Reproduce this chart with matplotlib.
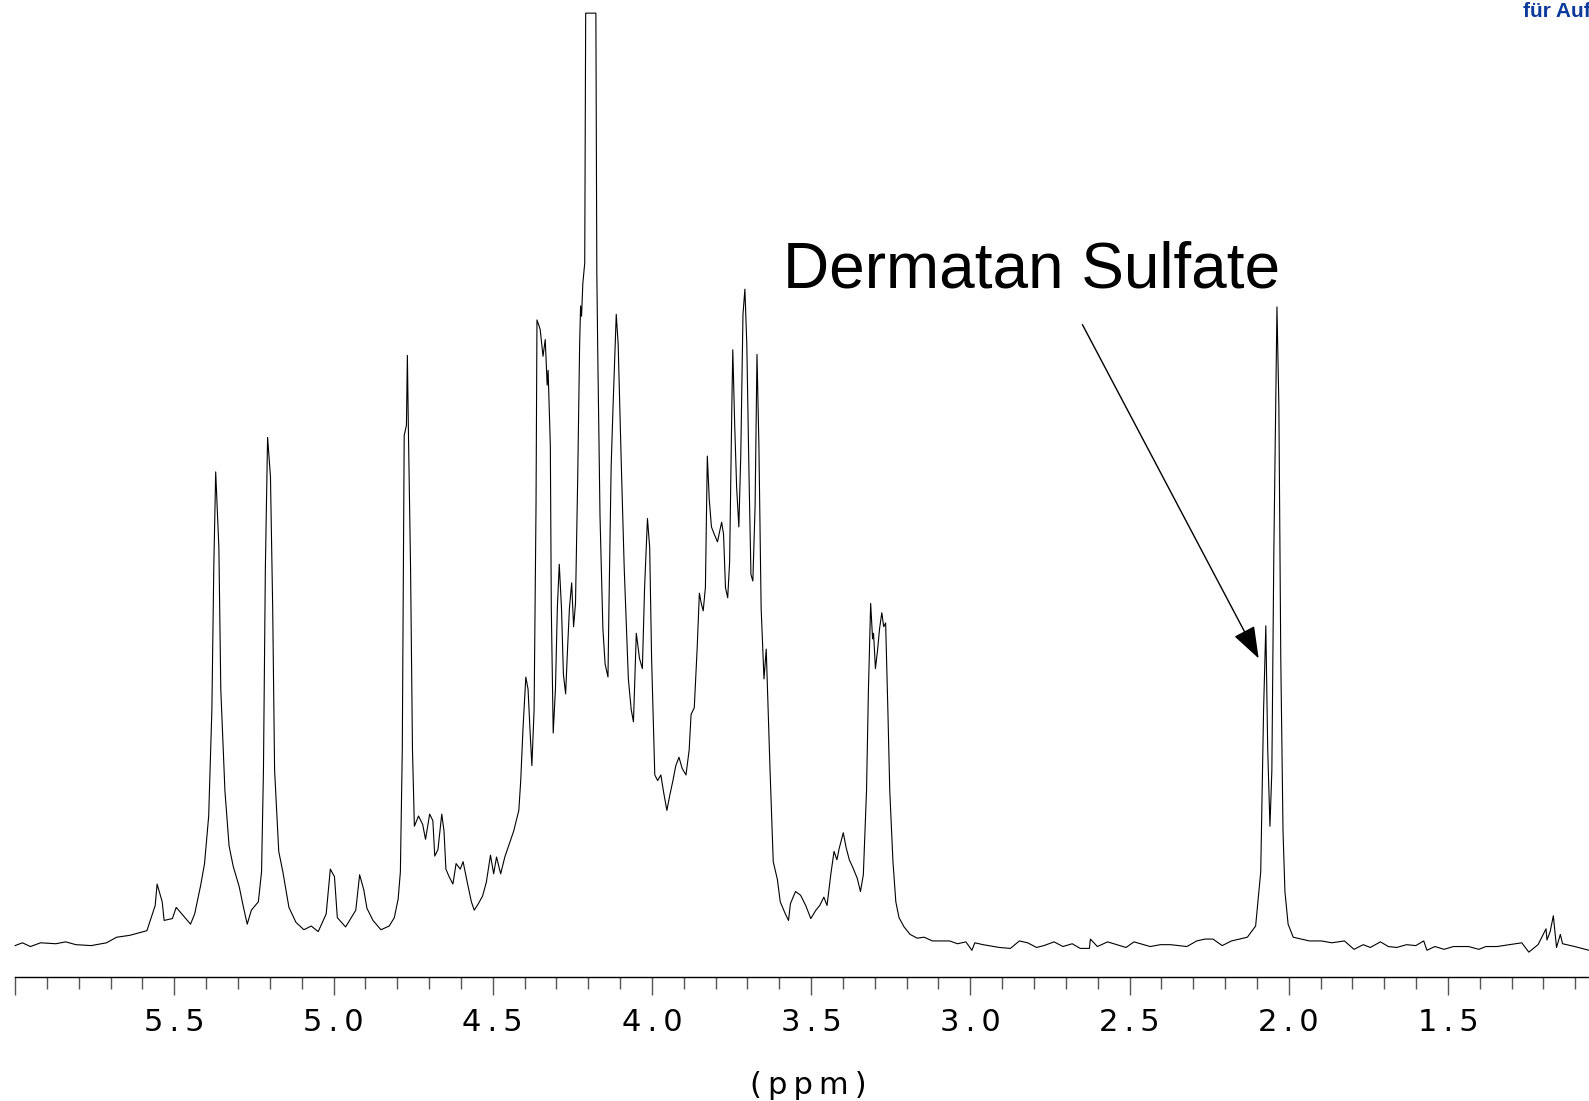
import matplotlib
matplotlib.use("Agg")
import matplotlib.pyplot as plt
import numpy as np

# chemical shift (ppm) and relative intensity
ppm = [6.000, 5.977, 5.952, 5.920, 5.872, 5.841, 5.809, 5.761, 5.713, 5.681,
       5.640, 5.586, 5.560, 5.554, 5.538, 5.532, 5.506, 5.494, 5.449, 5.436,
       5.417, 5.405, 5.392, 5.382, 5.376, 5.370, 5.360, 5.354, 5.341, 5.328,
       5.315, 5.296, 5.284, 5.271, 5.258, 5.236, 5.226, 5.220, 5.214, 5.207,
       5.198, 5.191, 5.185, 5.172, 5.159, 5.140, 5.118, 5.093, 5.070, 5.048,
       5.023, 5.010, 4.997, 4.988, 4.962, 4.946, 4.930, 4.918, 4.905, 4.895,
       4.876, 4.851, 4.825, 4.809, 4.797, 4.790, 4.784, 4.781, 4.778, 4.771,
       4.768, 4.765, 4.758, 4.752, 4.746, 4.733, 4.720, 4.711, 4.698, 4.688,
       4.682, 4.672, 4.660, 4.653, 4.647, 4.637, 4.625, 4.615, 4.602, 4.593,
       4.580, 4.567, 4.558, 4.545, 4.532, 4.520, 4.507, 4.497, 4.488, 4.475,
       4.462, 4.450, 4.434, 4.418, 4.412, 4.405, 4.396, 4.389, 4.383, 4.377,
       4.370, 4.364, 4.361, 4.351, 4.342, 4.335, 4.329, 4.326, 4.319, 4.316,
       4.310, 4.303, 4.297, 4.291, 4.284, 4.278, 4.271, 4.265, 4.259, 4.252,
       4.246, 4.240, 4.233, 4.227, 4.224, 4.221, 4.217, 4.211, 4.208, 4.176,
       4.173, 4.170, 4.163, 4.154, 4.147, 4.138, 4.135, 4.128, 4.122, 4.112,
       4.106, 4.096, 4.087, 4.074, 4.065, 4.058, 4.049, 4.039, 4.030, 4.023,
       4.014, 4.007, 4.001, 3.991, 3.982, 3.972, 3.963, 3.953, 3.944, 3.934,
       3.925, 3.915, 3.905, 3.893, 3.883, 3.877, 3.867, 3.858, 3.851, 3.845,
       3.839, 3.832, 3.826, 3.820, 3.813, 3.804, 3.794, 3.788, 3.781, 3.775,
       3.769, 3.762, 3.756, 3.749, 3.746, 3.740, 3.734, 3.727, 3.721, 3.714,
       3.708, 3.702, 3.695, 3.689, 3.683, 3.676, 3.670, 3.664, 3.657, 3.651,
       3.648, 3.641, 3.635, 3.629, 3.619, 3.606, 3.597, 3.581, 3.571, 3.565,
       3.549, 3.533, 3.517, 3.501, 3.485, 3.473, 3.460, 3.450, 3.438, 3.428,
       3.419, 3.412, 3.399, 3.390, 3.380, 3.368, 3.355, 3.345, 3.336, 3.326,
       3.320, 3.313, 3.307, 3.304, 3.298, 3.291, 3.285, 3.278, 3.272, 3.266,
       3.259, 3.253, 3.243, 3.234, 3.224, 3.208, 3.189, 3.167, 3.145, 3.119,
       3.094, 3.065, 3.040, 3.014, 2.995, 2.986, 2.960, 2.909, 2.874, 2.846,
       2.820, 2.792, 2.769, 2.737, 2.709, 2.680, 2.655, 2.626, 2.623, 2.601,
       2.569, 2.511, 2.486, 2.435, 2.403, 2.371, 2.320, 2.289, 2.263, 2.238,
       2.209, 2.180, 2.130, 2.104, 2.088, 2.079, 2.072, 2.066, 2.059, 2.053,
       2.047, 2.040, 2.037, 2.031, 2.025, 2.018, 2.012, 2.002, 1.986, 1.935,
       1.897, 1.865, 1.825, 1.795, 1.766, 1.744, 1.712, 1.687, 1.661, 1.630,
       1.601, 1.576, 1.566, 1.541, 1.512, 1.483, 1.435, 1.403, 1.381, 1.346,
       1.308, 1.268, 1.246, 1.217, 1.192, 1.189, 1.179, 1.169, 1.159, 1.147,
       1.140, 1.102, 1.057]

intensity = [0.0, 0.3, -0.1, 0.3, 0.2, 0.4, 0.1, 0.0, 0.3, 0.9,
             1.1, 1.6, 4.3, 6.6, 4.7, 2.7, 2.9, 4.1, 2.3, 3.4,
             6.5, 8.8, 13.9, 25.3, 40.5, 50.8, 42.7, 27.5, 16.6, 10.7,
             8.5, 6.3, 4.3, 2.3, 3.8, 4.7, 7.9, 18.8, 40.5, 54.5,
             50.3, 36.2, 18.8, 10.1, 7.9, 4.1, 2.5, 1.7, 2.1, 1.5,
             3.4, 8.2, 7.4, 3.0, 2.0, 2.9, 3.8, 7.6, 6.0, 4.0,
             2.7, 1.7, 2.1, 3.0, 5.0, 7.9, 21.0, 38.4, 54.7, 55.8,
             63.3, 55.8, 40.5, 21.0, 12.8, 13.9, 13.0, 11.4, 14.1, 13.4,
             9.6, 10.3, 14.1, 12.3, 8.2, 7.4, 6.6, 8.8, 8.2, 9.0,
             6.8, 4.7, 3.8, 4.5, 5.3, 6.8, 9.7, 7.7, 9.5, 7.7,
             9.5, 10.7, 12.3, 14.5, 17.7, 23.2, 28.8, 27.5, 23.2, 19.3,
             25.3, 47.1, 67.1, 66.1, 63.2, 65.0, 60.1, 61.7, 53.6, 36.2,
             22.8, 27.5, 36.2, 40.9, 36.2, 29.1, 27.0, 31.8, 36.2, 38.9,
             34.2, 36.7, 50.3, 64.5, 68.6, 67.5, 71.0, 73.2, 100.0, 100.0,
             72.1, 63.4, 46.0, 34.0, 30.2, 28.8, 36.2, 51.4, 57.9, 67.7,
             64.5, 51.4, 40.5, 28.6, 25.3, 24.0, 33.5, 30.8, 29.7, 38.4,
             45.8, 42.7, 30.8, 18.3, 17.7, 18.3, 16.4, 14.5, 16.1, 17.7,
             19.3, 20.2, 19.0, 18.3, 21.0, 24.8, 25.5, 31.8, 37.8, 36.7,
             35.9, 38.4, 52.5, 47.9, 44.9, 44.1, 43.3, 44.3, 45.4, 44.1,
             38.4, 37.3, 41.1, 57.9, 63.9, 55.8, 49.2, 44.9, 52.5, 67.7,
             70.4, 64.5, 50.3, 39.8, 39.1, 47.1, 63.4, 53.6, 36.2, 31.3,
             28.6, 31.8, 25.3, 18.8, 9.0, 7.1, 4.7, 3.4, 2.7, 4.5,
             5.8, 5.4, 4.3, 2.9, 3.8, 4.3, 5.2, 4.3, 7.7, 10.1,
             9.2, 10.4, 12.1, 10.5, 9.2, 8.3, 7.2, 5.8, 7.6, 16.6,
             27.5, 36.7, 32.9, 33.5, 29.7, 31.8, 34.0, 35.7, 34.2, 34.6,
             25.3, 16.6, 9.0, 4.7, 3.0, 2.0, 1.2, 0.8, 0.9, 0.5,
             0.5, 0.5, 0.2, 0.4, -0.5, 0.3, 0.1, -0.2, -0.3, 0.5,
             0.3, -0.2, 0.0, 0.4, -0.1, 0.2, -0.3, -0.3, 0.7, -0.1,
             0.4, -0.2, 0.4, -0.1, 0.1, 0.1, -0.1, 0.5, 0.7, 0.7,
             0.0, 0.5, 0.9, 2.1, 7.9, 25.3, 34.3, 21.0, 12.8, 18.8,
             41.6, 60.1, 68.5, 57.9, 30.8, 12.3, 5.8, 2.3, 0.9, 0.5,
             0.5, 0.3, 0.5, -0.4, 0.1, -0.2, 0.4, -0.1, -0.2, 0.1,
             0.0, 0.5, -0.5, -0.1, -0.4, -0.1, -0.1, -0.4, -0.1, -0.1,
             0.1, 0.3, -0.7, 0.1, 1.8, 0.6, 1.5, 3.2, -0.2, 1.2,
             0.2, -0.1, -0.5]

major_ticks = [6.0, 5.5, 5.0, 4.5, 4.0, 3.5, 3.0, 2.5, 2.0, 1.5]
major_labels = ["", "5.5", "5.0", "4.5", "4.0", "3.5", "3.0", "2.5", "2.0", "1.5"]
minor_ticks = [round(6.0 - 0.1 * i, 1) for i in range(1, 50)]

TS = "\u2009"  # thin space, the axis text is set wide

fig = plt.figure(figsize=(15.89, 11.01), dpi=100)
ax = fig.add_axes([0, 0.1126, 1, 0.8874])

ax.plot(ppm, intensity, color="black", lw=0.8)

ax.set_xlim(6.0474, 1.057)
ax.set_ylim(-3.37, 101.41)

for s in ["top", "left", "right"]:
    ax.spines[s].set_visible(False)
ax.spines["bottom"].set_bounds(6.0, 1.057)
ax.spines["bottom"].set_linewidth(1.0)
ax.set_yticks([])

ax.set_xticks(major_ticks)
ax.set_xticklabels([TS.join(l) for l in major_labels],
                   fontsize=22, family="DejaVu Sans")
ax.set_xticks([t for t in minor_ticks if t not in major_ticks], minor=True)
ax.tick_params(axis="x", which="major", direction="out", length=13,
               width=1.0, color="#555555", pad=9)
ax.tick_params(axis="x", which="minor", direction="out", length=8.6,
               width=1.0, color="#555555")

fig.text(0.509, 0.0145, TS.join("(ppm)"), fontsize=22, family="DejaVu Sans",
         ha="center", va="center")

ax.text(3.588, 70.6, "Dermatan Sulfate", fontsize=46,
        family="Liberation Sans", ha="left", va="baseline")
ax.annotate("", xy=(2.0945, 30.8), xytext=(2.648, 66.6),
            arrowprops=dict(arrowstyle="-|>,head_length=0.5,head_width=0.18",
                            mutation_scale=40, color="black", lw=1,
                            shrinkA=0, shrinkB=0))

fig.text(0.9585, 0.9846, "für Auf", fontsize=15, fontweight="bold",
         family="Liberation Sans", color="#0b3a9b", ha="left", va="baseline")

fig.savefig("out.png", dpi=100)
